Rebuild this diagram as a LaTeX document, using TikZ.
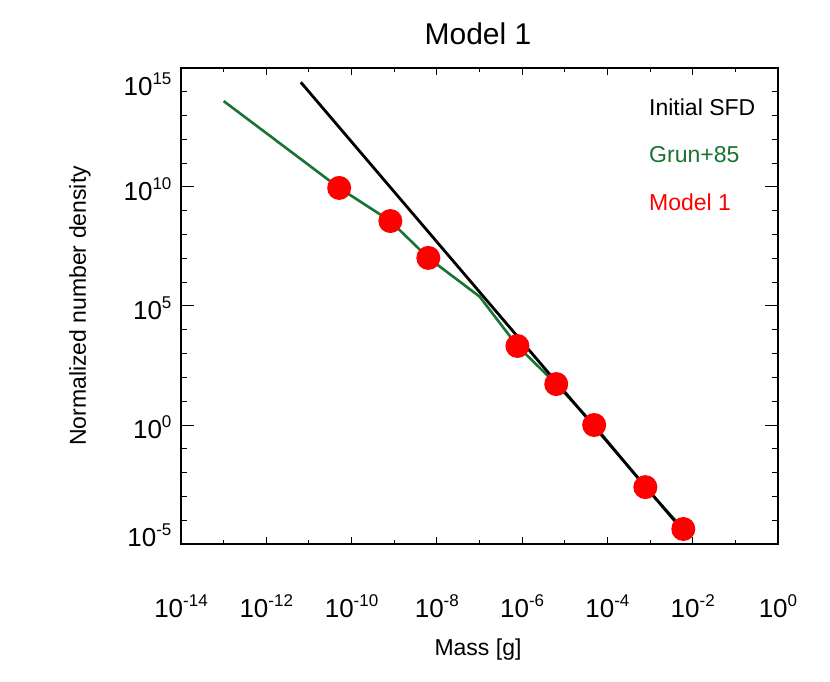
\documentclass[tikz,border=0pt]{standalone}
\usepackage{fontspec}
\setmainfont{Liberation Sans}
\definecolor{gr}{RGB}{25,115,50}
\newcommand{\tenp}[1]{10\raisebox{11pt}{\fontsize{17}{17}\selectfont #1}}
\begin{document}
\begin{tikzpicture}[lab/.style={font=\fontsize{26}{28}\selectfont,inner sep=0pt},
 leg/.style={font=\fontsize{23}{26}\selectfont,anchor=west,inner sep=0pt},
 dot/.style={circle,fill=red,inner sep=0pt,minimum size=24pt}]
\useasboundingbox (0,0) rectangle (830pt,681pt);
\node[font=\fontsize{30}{32}\selectfont] (title) at (478pt,647pt) {Model 1};
\node[font=\fontsize{23}{26}\selectfont,rotate=90] (ylab) at (80pt,375pt) {Normalized number density};
\node[font=\fontsize{23}{26}\selectfont] (xlab) at (478pt,31pt) {Mass [g]};
\begin{scope}[shift={(181pt,137pt)},x=42.64pt,y=23.8pt]
\draw[line width=1.2pt] (0,0) rectangle (14,20);
\foreach \i in {1,...,13}{
  \pgfmathsetmacro{\L}{mod(\i,2)==0?0.3:0.18}
  \draw[line width=1pt] (\i,0) -- ++(0,\L) (\i,20) -- ++(0,-\L);}
\foreach \j in {1,...,19}{
  \pgfmathsetmacro{\L}{mod(\j,5)==0?0.3:0.15}
  \draw[line width=1pt] (0,\j) -- ++(\L,0) (14,\j) -- ++(-\L,0);}
\foreach \e/\k in {-14/0,-12/2,-10/4,-8/6,-6/8,-4/10,-2/12,0/14}
  \node[lab] (xt\k) at (\k,-2.6) {\tenp{\e}};
\foreach \e/\k/\d in {15/20/-0.7,10/15/-0.1,5/10/-0.1,0/5/-0.1,-5/0/0.35}
  \node[lab,anchor=east] (yt\k) at (-0.22,\k+\d) {\tenp{\e}};
\draw[line width=2.6pt,gr] (1,18.61) -- (3.71,14.96) -- (4.91,13.57) -- (5.8,12.02) -- (7,10.4) -- (7.89,8.32) -- (8.8,6.72) -- (9.69,5) -- (10.89,2.39) -- (11.78,0.63) -- (11.9,0.25);
\draw[line width=2.8pt,black] (2.81,19.4) -- (11.85,0.4);
\foreach \x/\y [count=\n] in {3.71/14.96,4.91/13.57,5.8/12.02,7.89/8.32,8.8/6.72,9.69/5,10.89/2.39,11.78/0.63}
  \node[dot] (d\n) at (\x,\y) {};
\end{scope}
\node[leg] (l1) at (649pt,574pt) {Initial SFD};
\node[leg,text=gr] (l2) at (649pt,526pt) {Grun+85};
\node[leg,text=red] (l3) at (649pt,479pt) {Model 1};
\end{tikzpicture}
\end{document}
